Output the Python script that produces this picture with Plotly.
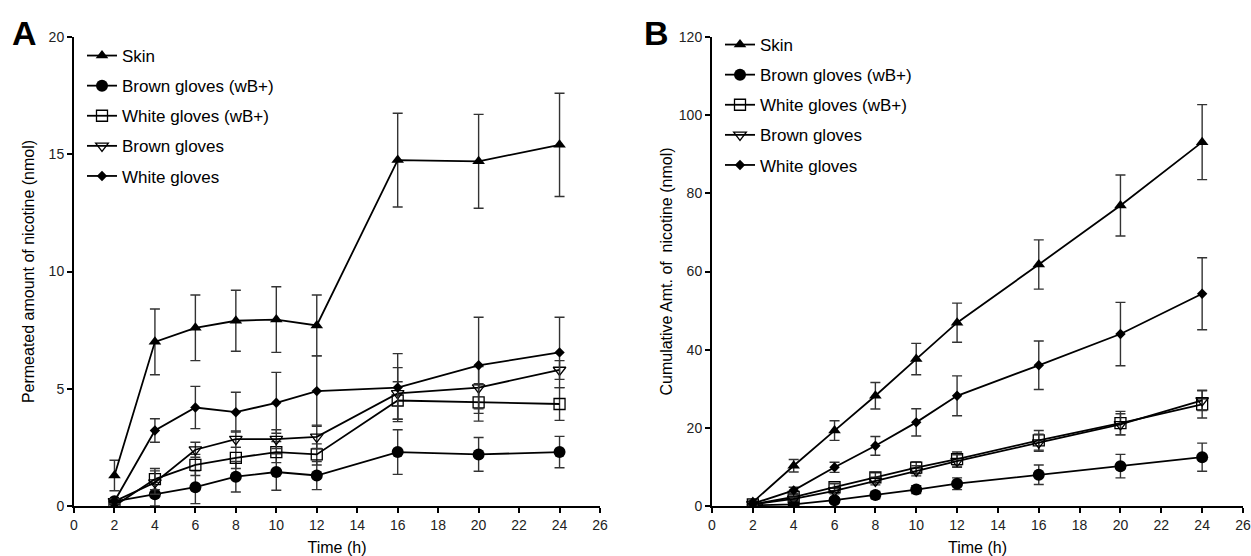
import plotly.graph_objects as go

time_h = [2, 4, 6, 8, 10, 12, 16, 20, 24]
series_names = ["Skin", "Brown gloves (wB+)", "White gloves (wB+)", "Brown gloves", "White gloves"]

# Panel A: permeated amount (nmol)
skin_a = [1.3, 7.0, 7.6, 7.9, 7.95, 7.7, 14.75, 14.7, 15.4]
skin_a_err = [0.65, 1.4, 1.4, 1.3, 1.4, 1.3, 2.0, 2.0, 2.2]
brownwb_a = [0.2, 0.5, 0.8, 1.25, 1.45, 1.3, 2.3, 2.2, 2.3]
brownwb_a_err = [0.1, 0.5, 0.7, 0.65, 0.78, 0.6, 0.95, 0.72, 0.67]
whitewb_a = [0.0, 1.15, 1.75, 2.05, 2.3, 2.2, 4.5, 4.42, 4.35]
whitewb_a_err = [0.1, 0.45, 0.45, 0.45, 0.45, 0.45, 0.8, 0.8, 0.7]
brown_a = [0.2, 1.0, 2.4, 2.85, 2.85, 2.95, 4.8, 5.05, 5.8]
brown_a_err = [0.1, 0.5, 0.32, 0.35, 0.4, 0.5, 1.1, 0.9, 0.4]
white_a = [0.2, 3.22, 4.2, 4.0, 4.4, 4.9, 5.05, 6.0, 6.55]
white_a_err = [0.1, 0.5, 0.9, 0.85, 1.3, 1.5, 1.45, 2.05, 1.5]

# Panel B: cumulative amount (nmol)
skin_b = [1.0, 10.3, 19.3, 28.2, 37.6, 46.9, 61.8, 76.9, 93.1]
skin_b_err = [0.5, 1.6, 2.5, 3.4, 4.0, 5.0, 6.3, 7.8, 9.6]
brownwb_b = [0.2, 0.4, 1.5, 2.8, 4.2, 5.7, 8.0, 10.2, 12.5]
brownwb_b_err = [0.1, 0.3, 0.6, 0.9, 1.0, 1.5, 2.5, 3.0, 3.6]
whitewb_b = [0.4, 2.3, 4.8, 7.3, 9.8, 12.0, 16.8, 21.2, 26.0]
whitewb_b_err = [0.2, 0.6, 0.9, 1.2, 1.5, 1.8, 2.5, 3.0, 3.5]
brown_b = [0.4, 1.8, 3.9, 6.4, 9.0, 11.5, 16.2, 20.9, 27.0]
brown_b_err = [0.2, 0.5, 0.8, 1.0, 1.3, 1.6, 2.2, 2.7, 2.6]
white_b = [0.6, 4.0, 9.9, 15.4, 21.4, 28.2, 36.0, 44.0, 54.3]
white_b_err = [0.3, 0.8, 1.3, 2.4, 3.5, 5.1, 6.2, 8.1, 9.2]

x_ticks = list(range(0, 27, 2))

markers = [
    dict(symbol="triangle-up", size=11, color="black"),
    dict(symbol="circle", size=12, color="black"),
    dict(symbol="square-open", size=11, color="black", line=dict(width=1.3)),
    dict(symbol="triangle-down-open", size=11, color="black", line=dict(width=1.3)),
    dict(symbol="diamond", size=8, color="black"),
]

panel_a = [(skin_a, skin_a_err), (brownwb_a, brownwb_a_err), (whitewb_a, whitewb_a_err),
           (brown_a, brown_a_err), (white_a, white_a_err)]
panel_b = [(skin_b, skin_b_err), (brownwb_b, brownwb_b_err), (whitewb_b, whitewb_b_err),
           (brown_b, brown_b_err), (white_b, white_b_err)]

FONT = "Liberation Sans, Arial, sans-serif"
fig = go.Figure()

for panel, (data, xa, ya, leg) in enumerate([(panel_a, "x", "y", "legend"), (panel_b, "x2", "y2", "legend2")]):
    for i, (vals, errs) in enumerate(data):
        fig.add_trace(go.Scatter(
            x=time_h, y=vals, name=series_names[i], mode="lines+markers",
            line=dict(color="black", width=1.8),
            marker=markers[i],
            error_y=dict(type="data", array=errs, visible=True, color="#333333", thickness=1.4, width=5),
            xaxis=xa, yaxis=ya, legend=leg, legendgroup=f"p{panel}g{i}",
        ))

axis_common = dict(
    showline=True, linecolor="black", linewidth=2, ticks="outside", ticklen=5, tickwidth=1.5,
    tickcolor="black", showgrid=False, zeroline=False, mirror=False, automargin=False,
    tickfont=dict(family=FONT, size=14, color="#222"),
)

ydom = [50 / 556, 519 / 556]

legend_common = dict(
    bgcolor="rgba(0,0,0,0)", borderwidth=0, yanchor="top", traceorder="grouped",
    tracegroupgap=5, itemwidth=30, font=dict(family=FONT, size=17, color="black"),
)

fig.update_layout(
    width=1251, height=556,
    margin=dict(l=0, r=0, t=0, b=0, autoexpand=False),
    plot_bgcolor="white", paper_bgcolor="white",
    xaxis=dict(domain=[74 / 1251, 600 / 1251], range=[0, 26], tickvals=x_ticks, anchor="y",
               title=dict(text="Time (h)", font=dict(family=FONT, size=16, color="black"), standoff=10),
               **axis_common),
    yaxis=dict(domain=ydom, range=[0, 20], dtick=5, anchor="x",
               title=dict(text="Permeated amount of nicotine (nmol)", font=dict(family=FONT, size=16, color="black"), standoff=10),
               **axis_common),
    xaxis2=dict(domain=[712 / 1251, 1243 / 1251], range=[0, 26], tickvals=x_ticks, anchor="y2",
                title=dict(text="Time (h)", font=dict(family=FONT, size=16, color="black"), standoff=10),
                **axis_common),
    yaxis2=dict(domain=ydom, range=[0, 120], dtick=20, anchor="x2",
                title=dict(text="Cumulative Amt. of  nicotine (nmol)", font=dict(family=FONT, size=16, color="black"), standoff=2),
                **axis_common),
    legend=dict(x=82 / 1251, y=1 - 38 / 556, **legend_common),
    legend2=dict(x=720 / 1251, y=1 - 27 / 556, **legend_common),
    annotations=[
        dict(text="<b>A</b>", x=10 / 1251, y=1 - 12 / 556, xref="paper", yref="paper", xanchor="left", yanchor="top",
             showarrow=False, font=dict(family=FONT, size=34, color="black")),
        dict(text="<b>B</b>", x=642 / 1251, y=1 - 12 / 556, xref="paper", yref="paper", xanchor="left", yanchor="top",
             showarrow=False, font=dict(family=FONT, size=34, color="black")),
    ],
)

fig.write_html("out.html")
